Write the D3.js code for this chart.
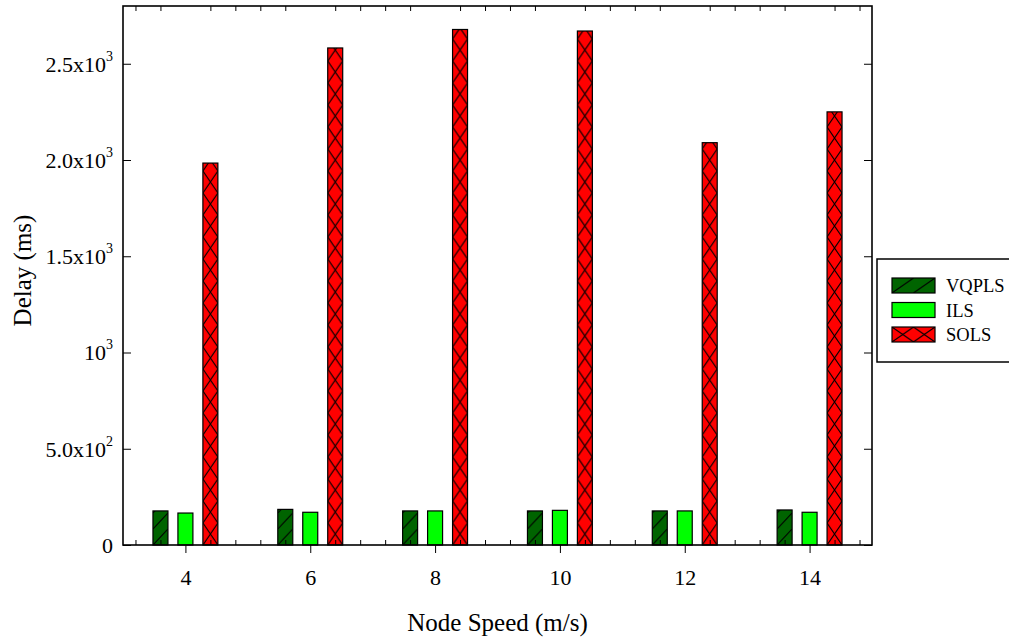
<!DOCTYPE html>
<html>
<head>
<meta charset="utf-8">
<script src="https://cdn.jsdelivr.net/npm/d3@7"></script>
<style>
  body { margin: 0; background: #fff; }
  text { font-family: "Liberation Serif", "Times New Roman", serif; fill: #000; }
</style>
</head>
<body>
<div id="chart"></div>
<script>
// data
const speeds = [4, 6, 8, 10, 12, 14];
const vqpls = [177, 185, 177, 177, 177, 182];
const ils = [166, 170, 177, 180, 177, 170];
const sols = [1984, 2582, 2678, 2670, 2090, 2250];
const seriesNames = ["VQPLS", "ILS", "SOLS"];
const yTickVals = [0, 500, 1000, 1500, 2000, 2500];
const yTickBase = ["0", "5.0x10", "10", "1.5x10", "2.0x10", "2.5x10"];
const yTickExp = ["", "2", "3", "3", "3", "3"];

const W = 1009, H = 639;
const plot = {left: 123, right: 872, top: 6, bottom: 545};

const svg = d3.select("#chart").append("svg")
    .attr("width", W)
    .attr("height", H);
const defs = svg.append("defs");

const x = d3.scaleLinear().domain([3, 15]).range([plot.left, plot.right]);
const y = d3.scaleLinear().domain([0, 2800]).range([plot.bottom, plot.top]);

const series = [
    {key: "VQPLS", values: vqpls, off: -0.4, fill: "#006400", hatch: "slash"},
    {key: "ILS", values: ils, off: 0, fill: "#00ff00", hatch: null},
    {key: "SOLS", values: sols, off: 0.4, fill: "#ff0000", hatch: "cross"}
];
const barW = x(3.24) - x(3);

function makePattern(id, px, py, w, h, fill, hatch) {
    let p = defs.append("pattern")
        .attr("id", id)
        .attr("patternUnits", "userSpaceOnUse")
        .attr("x", px).attr("y", py)
        .attr("width", w).attr("height", h);
    p.append("rect").attr("width", w).attr("height", h).attr("fill", fill);
    let d = hatch === "slash"
        ? `M0,${h} L${w},0`
        : `M0,0 L${w},${h} M${w},0 L0,${h}`;
    p.append("path").attr("d", d)
        .attr("stroke", "#000").attr("stroke-width", 1.1).attr("fill", "none");
    return `url(#${id})`;
}

// bars
series.forEach(s => {
    svg.append("g").selectAll("rect")
        .data(s.values)
        .enter().append("rect")
        .attr("x", (d, i) => x(speeds[i] + s.off) - barW / 2)
        .attr("y", d => y(d))
        .attr("width", barW)
        .attr("height", d => y(0) - y(d))
        .attr("fill", function (d, i) {
            if (!s.hatch) return s.fill;
            let bx = x(speeds[i] + s.off) - barW / 2;
            let ph = s.hatch === "slash" ? 16 : 22;
            return makePattern(`p-${s.key}-${i}`, bx, y(0), barW, ph, s.fill, s.hatch);
        })
        .attr("stroke", "#000")
        .attr("stroke-width", 1.2);
});

// minor x ticks (inside, top and bottom)
const minorX = d3.range(3.2, 15, 0.4).filter(v => Math.abs(v - Math.round(v)) > 0.05 || Math.round(v) % 2 === 1);
svg.append("g")
    .attr("transform", `translate(0, ${plot.bottom})`)
    .call(d3.axisBottom(x).tickValues(minorX).tickSize(-5).tickFormat(""))
    .call(g => g.select(".domain").remove());
svg.append("g")
    .attr("transform", `translate(0, ${plot.top})`)
    .call(d3.axisTop(x).tickValues(minorX).tickSize(-5).tickFormat(""))
    .call(g => g.select(".domain").remove());

// major x ticks
let xAxis = svg.append("g")
    .attr("transform", `translate(0, ${plot.bottom})`)
    .call(d3.axisBottom(x).tickValues(speeds).tickSize(8).tickPadding(16).tickFormat(d3.format("d")));
xAxis.select(".domain").remove();
xAxis.selectAll("text").attr("font-size", 22).attr("font-family", null);

// y ticks, inward on both sides
let yAxis = svg.append("g")
    .attr("transform", `translate(${plot.left}, 0)`)
    .call(d3.axisLeft(y).tickValues(yTickVals).tickSize(-8).tickPadding(10).tickFormat(""));
yAxis.select(".domain").remove();
yAxis.selectAll(".tick text").each(function (d, i) {
    let t = d3.select(this)
        .attr("font-size", 22).attr("font-family", null)
        .attr("dy", "0.34em");
    t.append("tspan").text(yTickBase[i]);
    if (yTickExp[i]) {
        t.append("tspan").attr("font-size", 14).attr("dy", "-0.8em").text(yTickExp[i]);
    }
});
svg.append("g")
    .attr("transform", `translate(${plot.right}, 0)`)
    .call(d3.axisRight(y).tickValues(yTickVals).tickSize(-8).tickFormat(""))
    .call(g => g.select(".domain").remove());

// frame
svg.append("rect")
    .attr("x", plot.left).attr("y", plot.top)
    .attr("width", plot.right - plot.left).attr("height", plot.bottom - plot.top)
    .attr("fill", "none").attr("stroke", "#000").attr("stroke-width", 1.6);

// axis titles
svg.append("text")
    .attr("x", (plot.left + plot.right) / 2).attr("y", 631)
    .attr("text-anchor", "middle").attr("font-size", 25)
    .text("Node Speed (m/s)");
svg.append("text")
    .attr("transform", `translate(31, ${(plot.top + plot.bottom) / 2 - 5}) rotate(-90)`)
    .attr("text-anchor", "middle").attr("font-size", 25)
    .text("Delay (ms)");

// legend
let legend = svg.append("g");
legend.append("rect")
    .attr("x", 877).attr("y", 259)
    .attr("width", 150).attr("height", 103)
    .attr("fill", "#fff").attr("stroke", "#000").attr("stroke-width", 1.5);
series.forEach((s, i) => {
    let ly = 278 + i * 24.5;
    let fill = s.hatch ? makePattern(`lp-${s.key}`, 892, ly, 21.5, 15, s.fill, s.hatch) : s.fill;
    legend.append("rect")
        .attr("x", 892).attr("y", ly)
        .attr("width", 43).attr("height", 15)
        .attr("fill", fill)
        .attr("stroke", "#000").attr("stroke-width", 1.2);
    legend.append("text")
        .attr("x", 946).attr("y", ly + 14)
        .attr("font-size", 18.5)
        .text(seriesNames[i]);
});
</script>
</body>
</html>
